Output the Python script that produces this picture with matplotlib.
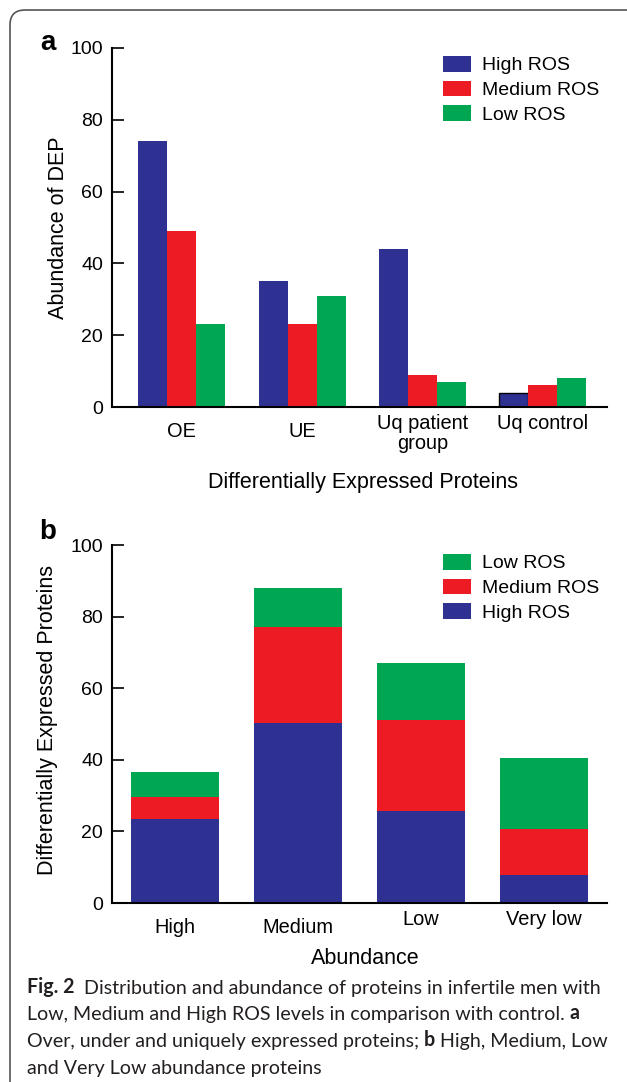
import matplotlib
matplotlib.use("Agg")
import matplotlib.pyplot as plt
import numpy as np
from matplotlib.patches import FancyBboxPatch
from matplotlib.transforms import IdentityTransform, ScaledTranslation

# panel a: over/under/uniquely expressed proteins
groups_a = ["OE", "UE", "Uq patient\ngroup", "Uq control"]
high_a = [74, 35, 44, 4]
medium_a = [49, 23, 9, 6]
low_a = [23, 31, 7, 8]

# panel b: abundance classes (stacked)
groups_b = ["High", "Medium", "Low", "Very low"]
high_b = [23.6, 50.3, 25.6, 7.8]
medium_b = [5.9, 26.7, 25.6, 12.8]
low_b = [7.0, 11.0, 15.9, 19.9]

BLUE = "#2E3192"
RED = "#ED1C24"
GREEN = "#00A651"
CAP_COLOR = "#231F20"

plt.rcParams["font.family"] = ["Liberation Sans", "DejaVu Sans"]

W, H = 627, 1082
fig = plt.figure(figsize=(W / 100, H / 100), dpi=100)

ax_a = fig.add_axes([112 / W, 1 - 407 / H, 495 / W, 359 / H])
ax_b = fig.add_axes([112 / W, 1 - 903 / H, 495 / W, 358 / H])


def style_axes(ax):
    for s in ["top", "right"]:
        ax.spines[s].set_visible(False)
    ax.spines["left"].set_linewidth(1.5)
    ax.spines["bottom"].set_linewidth(1.5)
    ax.set_ylim(0, 100)
    ax.set_yticks(range(0, 101, 20))
    ax.tick_params(axis="y", direction="in", length=8.5, width=1.2, pad=6.5, labelsize=14)
    ax.tick_params(axis="x", length=0, pad=5, labelsize=14.4)


def shift_labels(ax, idx, dy_px):
    labels = ax.get_xticklabels()
    for i in idx:
        lab = labels[i]
        lab.set_transform(lab.get_transform() + ScaledTranslation(0, -dy_px / 100, fig.dpi_scale_trans))


leg_kw = dict(frameon=False, fontsize=14, handlelength=1.45, handleheight=0.85, handletextpad=0.55,
              labelspacing=0.32, borderpad=0, borderaxespad=0, bbox_transform=fig.transFigure)

#-------------------------------
# panel a, grouped bars
#-------------------------------
x = np.arange(len(groups_a))
w = 0.241
bars_high = ax_a.bar(x - w, high_a, w, color=BLUE, label="High ROS")
ax_a.bar(x, medium_a, w, color=RED, label="Medium ROS")
ax_a.bar(x + w, low_a, w, color=GREEN, label="Low ROS")
bars_high[3].set_edgecolor("black")
bars_high[3].set_linewidth(1)
style_axes(ax_a)
ax_a.set_xlim(-0.581, 3.532)
ax_a.set_xticks(x)
ax_a.set_xticklabels(groups_a, va="top", linespacing=1.1)
shift_labels(ax_a, [0, 1], 8)
ax_a.set_ylabel("Abundance of DEP", fontsize=15.5)
ax_a.yaxis.set_label_coords(-0.087, 0.5)
ax_a.set_xlabel("Differentially Expressed Proteins", fontsize=15.5)
ax_a.xaxis.set_label_coords(0.507, -0.181)
ax_a.legend(loc="upper left", bbox_to_anchor=(443 / W, 1 - 56 / H), **leg_kw)

#-------------------------------
# panel b, stacked bars
#-------------------------------
xb = np.arange(len(groups_b))
wb = 0.715
b1 = ax_b.bar(xb, high_b, wb, color=BLUE, label="High ROS")
b2 = ax_b.bar(xb, medium_b, wb, bottom=high_b, color=RED, label="Medium ROS")
b3 = ax_b.bar(xb, low_b, wb, bottom=np.add(high_b, medium_b), color=GREEN, label="Low ROS")
style_axes(ax_b)
ax_b.set_xlim(-0.514, 3.514)
ax_b.set_xticks(xb)
ax_b.set_xticklabels(groups_b)
shift_labels(ax_b, [0, 1], 8)
ax_b.set_ylabel("Differentially Expressed Proteins", fontsize=15.5)
ax_b.yaxis.set_label_coords(-0.11, 0.51)
ax_b.set_xlabel("Abundance", fontsize=15.5)
ax_b.xaxis.set_label_coords(0.511, -0.126)
ax_b.legend([b3, b2, b1], ["Low ROS", "Medium ROS", "High ROS"], loc="upper left",
            bbox_to_anchor=(443 / W, 1 - 554 / H), **leg_kw)

# panel letters
fig.text(48 / W, 1 - 50 / H, "a", fontsize=20, fontweight="bold", ha="center", va="baseline")
fig.text(48 / W, 1 - 539 / H, "b", fontsize=20, fontweight="bold", ha="center", va="baseline")

#-------------------------------
# caption
#-------------------------------
cap = dict(family=["Lato", "DejaVu Sans"], fontsize=14.1, color=CAP_COLOR, va="bottom", ha="left")
x0 = 27 / W
t = fig.text(x0, 1 - 997 / H, "Fig. 2", fontweight="bold", **cap)
ax_b.annotate("Distribution and abundance of proteins in infertile men with", xy=(1, 0), xycoords=t,
              xytext=(7, 0), textcoords="offset points", annotation_clip=False, **cap)
t = fig.text(x0, 1 - 1023 / H, "Low, Medium and High ROS levels in comparison with control.", **cap)
ax_b.annotate("a", xy=(1, 0), xycoords=t, xytext=(3.5, 0), textcoords="offset points",
              fontweight="bold", annotation_clip=False, **cap)
t = fig.text(x0, 1 - 1050 / H, "Over, under and uniquely expressed proteins;", **cap)
t = ax_b.annotate("b", xy=(1, 0), xycoords=t, xytext=(3.5, 0), textcoords="offset points",
                  fontweight="bold", annotation_clip=False, **cap)
ax_b.annotate("High, Medium, Low", xy=(1, 0), xycoords=t, xytext=(3.5, 0), textcoords="offset points",
              annotation_clip=False, **cap)
fig.text(x0, 1 - 1077 / H, "and Very Low abundance proteins", **cap)

# rounded frame, runs off the right and bottom edges
frame = FancyBboxPatch((10, -40), 700, H - 10 + 40, boxstyle="round,pad=0,rounding_size=15",
                       transform=IdentityTransform(), fill=False, edgecolor="#555555", linewidth=1.2)
fig.patches.append(frame)

fig.savefig("out.png", dpi=100)
